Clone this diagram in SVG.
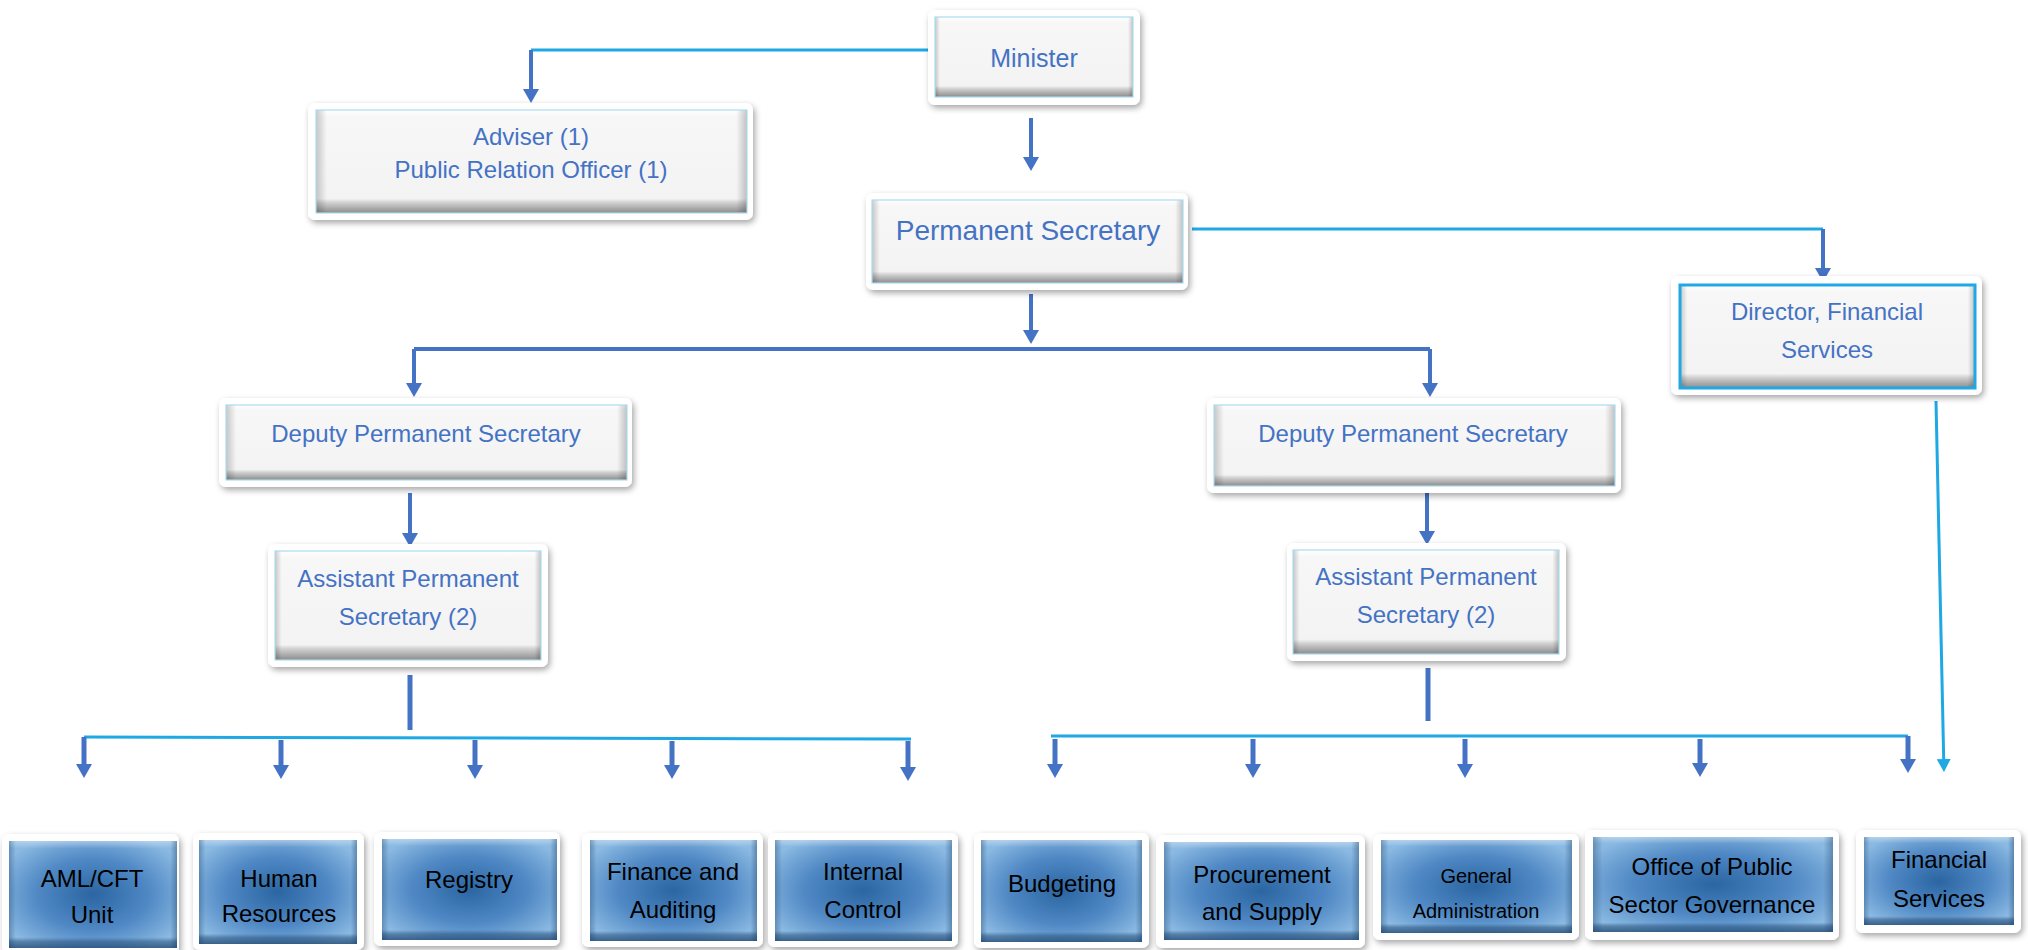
<svg xmlns="http://www.w3.org/2000/svg" width="2028" height="950" viewBox="0 0 2028 950">
<defs>
<filter id="sh" x="-10%" y="-10%" width="125%" height="130%">
<feDropShadow dx="2" dy="3" stdDeviation="3" flood-color="#000" flood-opacity="0.35"/>
</filter>
<linearGradient id="gFace" x1="0" y1="0" x2="0" y2="1">
<stop offset="0" stop-color="#ffffff"/>
<stop offset="0.07" stop-color="#f7f7f7"/>
<stop offset="0.86" stop-color="#f3f3f3"/>
<stop offset="0.9" stop-color="#cfcfcf"/>
<stop offset="1" stop-color="#8c8c8c"/>
</linearGradient>
<linearGradient id="gSide" x1="0" y1="0" x2="1" y2="0">
<stop offset="0" stop-color="#000" stop-opacity="0.2"/>
<stop offset="0.025" stop-color="#000" stop-opacity="0"/>
<stop offset="0.975" stop-color="#000" stop-opacity="0"/>
<stop offset="1" stop-color="#000" stop-opacity="0.22"/>
</linearGradient>
<radialGradient id="gBlue" cx="0.5" cy="0.5" r="0.6">
<stop offset="0" stop-color="#2b66a2"/>
<stop offset="0.55" stop-color="#4f88c4"/>
<stop offset="1" stop-color="#8ab9e2"/>
</radialGradient>
<linearGradient id="gBV" x1="0" y1="0" x2="0" y2="1">
<stop offset="0" stop-color="#ffffff" stop-opacity="0.35"/>
<stop offset="0.07" stop-color="#ffffff" stop-opacity="0"/>
<stop offset="0.9" stop-color="#163d66" stop-opacity="0"/>
<stop offset="0.94" stop-color="#163d66" stop-opacity="0.45"/>
<stop offset="1" stop-color="#163d66" stop-opacity="0.7"/>
</linearGradient>
<linearGradient id="gBH" x1="0" y1="0" x2="1" y2="0">
<stop offset="0" stop-color="#163d66" stop-opacity="0.35"/>
<stop offset="0.04" stop-color="#163d66" stop-opacity="0"/>
<stop offset="0.96" stop-color="#163d66" stop-opacity="0"/>
<stop offset="1" stop-color="#163d66" stop-opacity="0.4"/>
</linearGradient>
<marker id="ab" markerUnits="userSpaceOnUse" markerWidth="18" markerHeight="18" refX="0" refY="8" orient="auto">
<path d="M0,0 L14,8 L0,16 z" fill="#4472c4"/>
</marker>
<marker id="ac" markerUnits="userSpaceOnUse" markerWidth="18" markerHeight="18" refX="0" refY="7" orient="auto">
<path d="M0,0 L13,7 L0,14 z" fill="#1ea8e4"/>
</marker>
</defs>
<style>
.frame{fill:#ffffff;filter:url(#sh)}
.face{fill:url(#gFace)}
.side{fill:url(#gSide)}
.edge{fill:none;stroke:#a9dcf0;stroke-width:1.2}
.edge2{fill:none;stroke:#1ea8e4;stroke-width:3}
.bface{fill:url(#gBlue)}
.bv{fill:url(#gBV)}
.bh{fill:url(#gBH)}
.t{font-family:"Liberation Sans",Arial,sans-serif;fill:#4472c4;text-anchor:middle;font-size:24px}
.bt{font-family:"Liberation Sans",Arial,sans-serif;fill:#000;text-anchor:middle;font-size:24px}
.blue{fill:none;stroke:#4472c4;stroke-width:4}
.blue5{fill:none;stroke:#4472c4;stroke-width:5}
.cyan{fill:none;stroke:#1ea8e4;stroke-width:3}
</style>
<rect width="2028" height="950" fill="#ffffff"/>

<g id="connectors">
<path class="cyan" d="M928,50 H531"/>
<path class="blue" d="M531,50 V89" marker-end="url(#ab)"/>
<path class="blue" d="M1031,118 V157" marker-end="url(#ab)"/>
<path class="cyan" d="M1192,229 H1823"/>
<path class="blue" d="M1823,229 V268" marker-end="url(#ab)"/>
<path class="blue" d="M1031,294 V330" marker-end="url(#ab)"/>
<path class="blue" d="M414,349 H1430"/>
<path class="blue" d="M414,349 V383" marker-end="url(#ab)"/>
<path class="blue" d="M1430,349 V383" marker-end="url(#ab)"/>
<path class="blue" d="M410,493 V533" marker-end="url(#ab)"/>
<path class="blue" d="M1427,491 V531" marker-end="url(#ab)"/>
<path class="blue5" d="M410,675 V730"/>
<path class="blue5" d="M1428,668 V721"/>
<path class="cyan" d="M84,737 L911,739"/>
<path class="blue5" d="M84,737 V764" marker-end="url(#ab)"/>
<path class="blue5" d="M281,740 V765" marker-end="url(#ab)"/>
<path class="blue5" d="M475,740 V765" marker-end="url(#ab)"/>
<path class="blue5" d="M672,741 V765" marker-end="url(#ab)"/>
<path class="blue5" d="M908,741 V767" marker-end="url(#ab)"/>
<path class="cyan" d="M1051,736 H1908"/>
<path class="blue5" d="M1055,739 V764" marker-end="url(#ab)"/>
<path class="blue5" d="M1253,739 V764" marker-end="url(#ab)"/>
<path class="blue5" d="M1465,739 V764" marker-end="url(#ab)"/>
<path class="blue5" d="M1700,739 V763" marker-end="url(#ab)"/>
<path class="blue5" d="M1908,736 V759" marker-end="url(#ab)"/>
<path class="cyan" d="M1936,401 L1943.7,759" marker-end="url(#ac)"/>
</g>

<g id="minister">
<rect class="frame" x="928" y="10" width="212" height="95" rx="7"/>
<rect class="face" x="935" y="17" width="198" height="80"/>
<rect class="side" x="935" y="17" width="198" height="80"/>
<rect class="edge" x="935" y="17" width="198" height="80"/>
<text class="t" x="1034" y="67" font-size="25" style="font-size:25px">Minister</text>
</g>

<g id="adviser">
<rect class="frame" x="308" y="103" width="445" height="117" rx="7"/>
<rect class="face" x="316" y="110" width="431" height="103"/>
<rect class="side" x="316" y="110" width="431" height="103"/>
<rect class="edge" x="316" y="110" width="431" height="103"/>
<text class="t" x="531" y="145">Adviser (1)</text>
<text class="t" x="531" y="178">Public Relation Officer (1)</text>
</g>

<g id="permanent-secretary">
<rect class="frame" x="866" y="193" width="322" height="97" rx="7"/>
<rect class="face" x="872" y="200" width="311" height="83"/>
<rect class="side" x="872" y="200" width="311" height="83"/>
<rect class="edge" x="872" y="200" width="311" height="83"/>
<text class="t" x="1028" y="240" style="font-size:28px">Permanent Secretary</text>
</g>

<g id="director-financial-services">
<rect class="frame" x="1671" y="276" width="311" height="119" rx="7"/>
<rect class="face" x="1680" y="285" width="295" height="103"/>
<rect class="side" x="1680" y="285" width="295" height="103"/>
<rect class="edge2" x="1680" y="285" width="295" height="103"/>
<text class="t" x="1827" y="320">Director, Financial</text>
<text class="t" x="1827" y="358">Services</text>
</g>

<g id="deputy-left">
<rect class="frame" x="219" y="398" width="413" height="89" rx="7"/>
<rect class="face" x="226" y="405" width="401" height="75"/>
<rect class="side" x="226" y="405" width="401" height="75"/>
<rect class="edge" x="226" y="405" width="401" height="75"/>
<text class="t" x="426" y="442">Deputy Permanent Secretary</text>
</g>

<g id="deputy-right">
<rect class="frame" x="1207" y="398" width="414" height="95" rx="7"/>
<rect class="face" x="1214" y="405" width="401" height="81"/>
<rect class="side" x="1214" y="405" width="401" height="81"/>
<rect class="edge" x="1214" y="405" width="401" height="81"/>
<text class="t" x="1413" y="442">Deputy Permanent Secretary</text>
</g>

<g id="assistant-left">
<rect class="frame" x="268" y="544" width="280" height="123" rx="7"/>
<rect class="face" x="275" y="551" width="266" height="109"/>
<rect class="side" x="275" y="551" width="266" height="109"/>
<rect class="edge" x="275" y="551" width="266" height="109"/>
<text class="t" x="408" y="587">Assistant Permanent</text>
<text class="t" x="408" y="625">Secretary (2)</text>
</g>

<g id="assistant-right">
<rect class="frame" x="1287" y="543" width="279" height="118" rx="7"/>
<rect class="face" x="1293" y="550" width="266" height="104"/>
<rect class="side" x="1293" y="550" width="266" height="104"/>
<rect class="edge" x="1293" y="550" width="266" height="104"/>
<text class="t" x="1426" y="585">Assistant Permanent</text>
<text class="t" x="1426" y="623">Secretary (2)</text>
</g>

<g id="aml-cft">
<rect class="frame" x="2" y="834" width="177" height="120" rx="7"/>
<rect class="bface" x="9" y="841" width="168" height="107"/>
<rect class="bv" x="9" y="841" width="168" height="107"/>
<rect class="bh" x="9" y="841" width="168" height="107"/>
<text class="bt" x="92" y="887">AML/CFT</text>
<text class="bt" x="92" y="923">Unit</text>
</g>

<g id="human-resources">
<rect class="frame" x="193" y="833" width="171" height="117" rx="7"/>
<rect class="bface" x="199" y="840" width="158" height="104"/>
<rect class="bv" x="199" y="840" width="158" height="104"/>
<rect class="bh" x="199" y="840" width="158" height="104"/>
<text class="bt" x="279" y="887">Human</text>
<text class="bt" x="279" y="922">Resources</text>
</g>

<g id="registry">
<rect class="frame" x="374" y="832" width="186" height="114" rx="7"/>
<rect class="bface" x="382" y="839" width="175" height="101"/>
<rect class="bv" x="382" y="839" width="175" height="101"/>
<rect class="bh" x="382" y="839" width="175" height="101"/>
<text class="bt" x="469" y="888">Registry</text>
</g>

<g id="finance-auditing">
<rect class="frame" x="582" y="833" width="181" height="114" rx="7"/>
<rect class="bface" x="590" y="840" width="167" height="101"/>
<rect class="bv" x="590" y="840" width="167" height="101"/>
<rect class="bh" x="590" y="840" width="167" height="101"/>
<text class="bt" x="673" y="880">Finance and</text>
<text class="bt" x="673" y="918">Auditing</text>
</g>

<g id="internal-control">
<rect class="frame" x="768" y="833" width="190" height="114" rx="7"/>
<rect class="bface" x="775" y="840" width="177" height="101"/>
<rect class="bv" x="775" y="840" width="177" height="101"/>
<rect class="bh" x="775" y="840" width="177" height="101"/>
<text class="bt" x="863" y="880">Internal</text>
<text class="bt" x="863" y="918">Control</text>
</g>

<g id="budgeting">
<rect class="frame" x="974" y="833" width="175" height="115" rx="7"/>
<rect class="bface" x="981" y="840" width="161" height="102"/>
<rect class="bv" x="981" y="840" width="161" height="102"/>
<rect class="bh" x="981" y="840" width="161" height="102"/>
<text class="bt" x="1062" y="892">Budgeting</text>
</g>

<g id="procurement-supply">
<rect class="frame" x="1156" y="835" width="209" height="113" rx="7"/>
<rect class="bface" x="1164" y="842" width="195" height="98"/>
<rect class="bv" x="1164" y="842" width="195" height="98"/>
<rect class="bh" x="1164" y="842" width="195" height="98"/>
<text class="bt" x="1262" y="883">Procurement</text>
<text class="bt" x="1262" y="920">and Supply</text>
</g>

<g id="general-administration">
<rect class="frame" x="1373" y="834" width="206" height="106" rx="7"/>
<rect class="bface" x="1381" y="840" width="191" height="93"/>
<rect class="bv" x="1381" y="840" width="191" height="93"/>
<rect class="bh" x="1381" y="840" width="191" height="93"/>
<text class="bt" x="1476" y="883" style="font-size:20px">General</text>
<text class="bt" x="1476" y="918" style="font-size:20px">Administration</text>
</g>

<g id="public-sector-governance">
<rect class="frame" x="1585" y="830" width="254" height="110" rx="7"/>
<rect class="bface" x="1593" y="837" width="240" height="95"/>
<rect class="bv" x="1593" y="837" width="240" height="95"/>
<rect class="bh" x="1593" y="837" width="240" height="95"/>
<text class="bt" x="1712" y="875">Office of Public</text>
<text class="bt" x="1712" y="913">Sector Governance</text>
</g>

<g id="financial-services">
<rect class="frame" x="1856" y="830" width="165" height="103" rx="7"/>
<rect class="bface" x="1864" y="837" width="150" height="88"/>
<rect class="bv" x="1864" y="837" width="150" height="88"/>
<rect class="bh" x="1864" y="837" width="150" height="88"/>
<text class="bt" x="1939" y="868">Financial</text>
<text class="bt" x="1939" y="907">Services</text>
</g>
</svg>
